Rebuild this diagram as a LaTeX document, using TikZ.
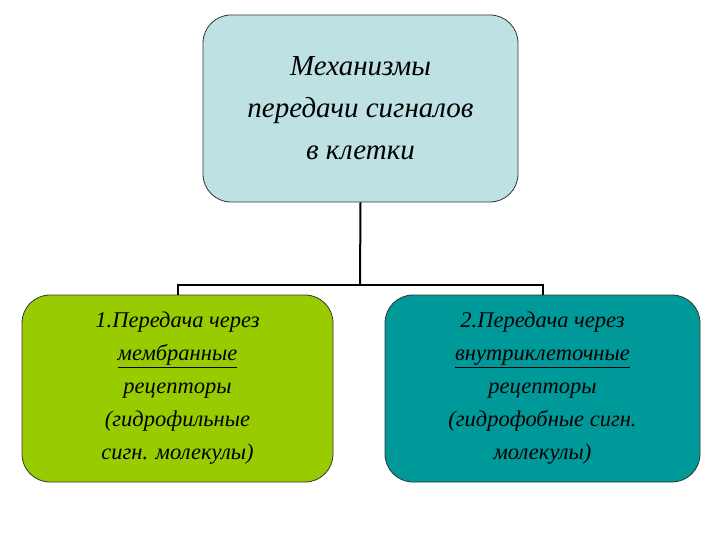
\documentclass[tikz,border=0pt]{standalone}
\usepackage{fontspec}
\setmainfont{Liberation Serif}
\begin{document}
\begin{tikzpicture}[x=1pt,y=-1pt,
  boxst/.style={draw=black!80,line width=0.8pt,rounded corners=28pt,minimum width=#1,align=center,font=\itshape},
  conn/.style={line width=2pt,black}]
\useasboundingbox (0,0) rectangle (720,540);
\node[boxst=315pt,minimum height=187pt,fill={rgb,255:red,190;green,226;blue,228},font=\itshape\fontsize{29}{42}\selectfont] (top) at (360.5,108.5) {Механизмы\\передачи сигналов\\в клетки};
\node[boxst=311pt,minimum height=187pt,fill={rgb,255:red,153;green,204;blue,0},font=\itshape\fontsize{22.5}{33}\selectfont] (left) at (177.5,388.5) {1.Передача через\\\underline{мембранные}\\рецепторы\\(гидрофильные\\сигн. молекулы)};
\node[boxst=315pt,minimum height=187pt,fill={rgb,255:red,0;green,153;blue,153},font=\itshape\fontsize{22.5}{33}\selectfont] (right) at (542.5,388.5) {2.Передача через\\\underline{внутриклеточные}\\рецепторы\\(гидрофобные сигн.\\молекулы)};
\coordinate (j) at (360,285);
\draw[conn] (top.south) -- (j);
\draw[conn] (left.north) -- ++(0,-10) -| (right.north);
\end{tikzpicture}
\end{document}
